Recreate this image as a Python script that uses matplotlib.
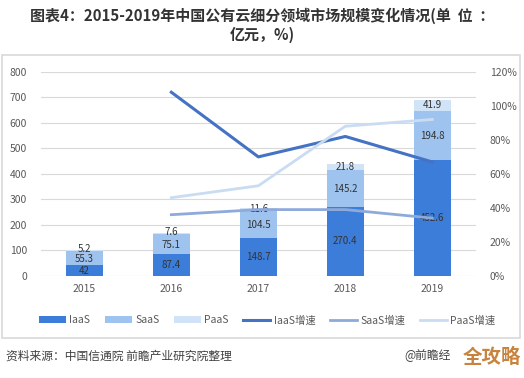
import numpy as np
import matplotlib.pyplot as plt
from matplotlib.patches import Rectangle

plt.rcParams["font.family"] = ["Noto Sans CJK SC", "DejaVu Sans"]

# --- data ---
years = ["2015", "2016", "2017", "2018", "2019"]
iaas = [42, 87.4, 148.7, 270.4, 452.6]
saas = [55.3, 75.1, 104.5, 145.2, 194.8]
paas = [5.2, 7.6, 11.6, 21.8, 41.9]
# growth rates (%), 2015 has none
iaas_growth = [np.nan, 108, 70, 82, 67]
saas_growth = [np.nan, 36, 39, 39, 34]
paas_growth = [np.nan, 46, 53, 88, 92]

c_iaas = "#3C7DD9"
c_saas = "#9DC3EE"
c_paas = "#D0E3F7"
c_l_iaas = "#4472C4"
c_l_saas = "#8EAADB"
c_l_paas = "#CADCF2"
txt = "#595959"

fig = plt.figure(figsize=(5.24, 3.78), dpi=100)
ax = fig.add_axes([0.078, 0.270, 0.830, 0.540])

x = np.arange(len(years))
w = 0.42
b1 = ax.bar(x, iaas, w, color=c_iaas, label="IaaS", zorder=2)
bottom2 = np.array(iaas)
b2 = ax.bar(x, saas, w, bottom=bottom2, color=c_saas, label="SaaS", zorder=2)
bottom3 = bottom2 + np.array(saas)
b3 = ax.bar(x, paas, w, bottom=bottom3, color=c_paas, label="PaaS", zorder=2)

# data labels in the middle of each segment
for i in range(len(years)):
    ax.text(x[i], iaas[i] / 2, f"{iaas[i]:g}", ha="center", va="center",
            fontsize=7, color="#333333", zorder=3)
    ax.text(x[i], bottom2[i] + saas[i] / 2 - 3, f"{saas[i]:g}", ha="center",
            va="center", fontsize=7, color="#333333", zorder=3)
    # small PaaS segments: label sits on the bar top
    ax.text(x[i], bottom3[i] + max(paas[i] / 2, 8), f"{paas[i]:g}", ha="center",
            va="center", fontsize=7, color="#333333", zorder=3)

ax.set_xlim(-0.5, 4.5)
ax.set_ylim(0, 800)
ax.set_yticks(range(0, 801, 100))
ax.set_xticks(x)
ax.set_xticklabels(years)
ax.grid(axis="y", color="#D9D9D9", linewidth=0.8, zorder=0)
ax.set_axisbelow(True)
for s in ax.spines.values():
    s.set_visible(False)
ax.tick_params(length=0, labelsize=7.5, labelcolor=txt)
ax.tick_params(axis="y", pad=10)
ax.tick_params(axis="x", pad=6)

# growth lines on right axis
ax2 = ax.twinx()
l1, = ax2.plot(x, iaas_growth, color=c_l_iaas, lw=2.2, label="IaaS增速")
l2, = ax2.plot(x, saas_growth, color=c_l_saas, lw=2, label="SaaS增速")
l3, = ax2.plot(x, paas_growth, color=c_l_paas, lw=2, label="PaaS增速")
ax2.set_ylim(0, 120)
ax2.set_yticks(range(0, 121, 20))
ax2.set_yticklabels([f"{v}%" for v in range(0, 121, 20)])
for s in ax2.spines.values():
    s.set_visible(False)
ax2.tick_params(length=0, labelsize=7.5, labelcolor=txt, pad=10)

fig.legend(handles=[b1, b2, b3, l1, l2, l3], loc="center",
           bbox_to_anchor=(0.51, 0.153), ncol=6, frameon=False,
           fontsize=7.5, handlelength=2.6, columnspacing=1.4,
           handletextpad=0.3, labelcolor=txt)

# frame around the chart area
fig.patches.append(Rectangle((0.004, 1 - 338 / 378), 0.988, (338 - 55) / 378,
                             transform=fig.transFigure, fill=False,
                             edgecolor="#D9D9D9", linewidth=1.2))

# title
fig.text(0.5, 1 - 16 / 378, "图表4：2015-2019年中国公有云细分领域市场规模变化情况(单  位  ：",
         ha="center", va="center", fontsize=10.8, fontweight="bold", color="#333333")
fig.text(0.5, 1 - 35 / 378, "亿元，%)", ha="center", va="center",
         fontsize=10.8, fontweight="bold", color="#333333")

# footer
fig.text(0.012, 1 - 356 / 378, "资料来源：中国信通院 前瞻产业研究院整理",
         ha="left", va="center", fontsize=8.5, color="#404040")
fig.text(0.772, 1 - 356 / 378, "@前瞻经", ha="left", va="center",
         fontsize=8.5, color="#404040")
fig.text(0.995, 1 - 357 / 378, "全攻略", ha="right", va="center",
         fontsize=14, fontweight="bold", color="#C8843E")

fig.savefig("out.png", dpi=100)
